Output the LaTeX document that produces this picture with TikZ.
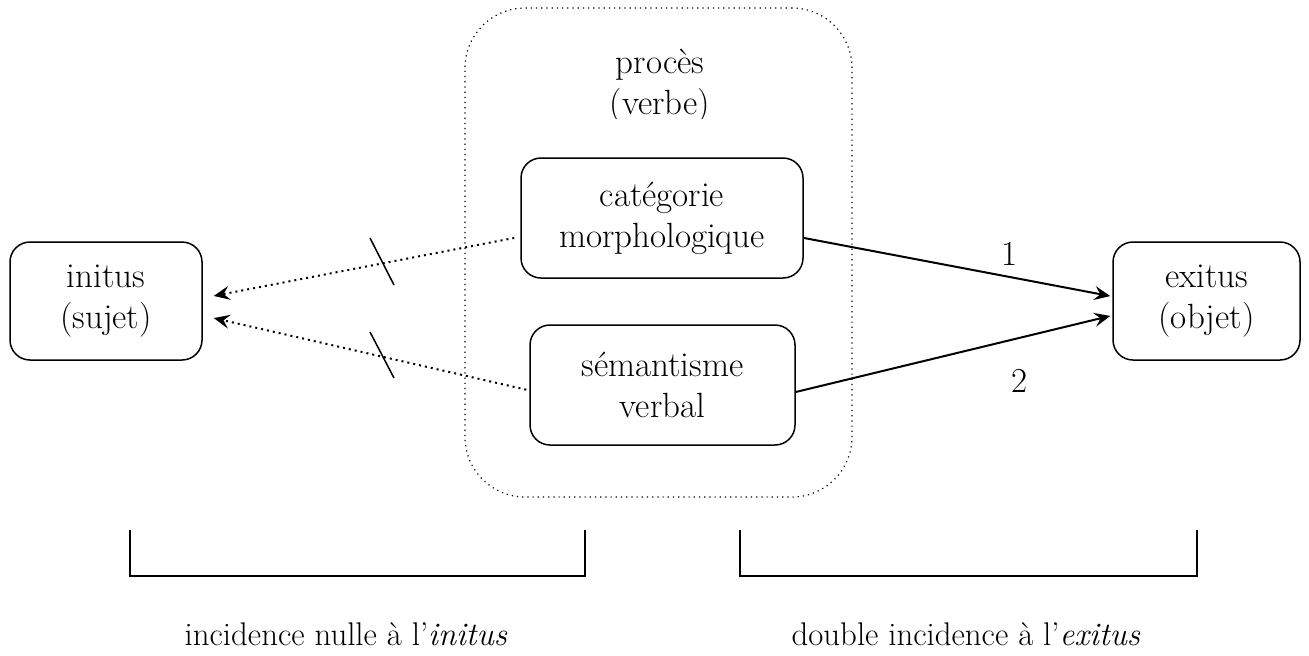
\documentclass[tikz,border=0pt]{standalone}
\usetikzlibrary{arrows.meta}
\begin{document}
\begin{tikzpicture}[x=0.5pt,y=-0.5pt,
  txt/.style={font=\fontsize{17.5}{20.5}\selectfont, align=center},
  lowtxt/.style={font=\fontsize{16.4}{20}\selectfont, align=center, inner ysep=1pt},
  box/.style={draw, line width=0.75pt, rounded corners=10pt, txt, inner sep=0pt},
  dotarrow/.style={dotted, line width=1pt, -{Stealth[length=8pt,width=7pt,inset=3pt]}},
  solarrow/.style={line width=1pt, -{Stealth[length=8pt,width=7pt,inset=3pt]}},
  tick/.style={line width=0.75pt},
  bracket/.style={line width=0.6pt}]
\useasboundingbox (0,0) rectangle (1309,655);
% proces frame
\node[draw, dotted, line width=0.6pt, rounded corners=30pt, minimum width=193.5pt, minimum height=244.5pt] (proc) at (658.5,252.5) {};
\begin{scope}
\clip (465,8) rectangle (852,118);
\node[txt] (proclab) at (660,86) {procès\\(verbe)};
\end{scope}
% boxes
\node[box, minimum width=96pt, minimum height=59pt] (initus) at (106,301) {initus\\(sujet)};
\node[box, minimum width=93.5pt, minimum height=59pt] (exitus) at (1206.5,301) {exitus\\(objet)};
\node[box, minimum width=141pt, minimum height=60pt] (cat) at (662,218) {catégorie\\morphologique};
\node[box, minimum width=132.5pt, minimum height=60pt] (sem) at (662.5,385) {sémantisme\\verbal};
% dotted arrows
\draw[dotarrow] ([xshift=-3pt]cat.188) -- ([xshift=5.5pt]initus.3.6);
\draw[dotarrow] ([xshift=-1.5pt]sem.182.6) -- ([xshift=5.5pt]initus.-10);
% ticks
\draw[tick] (370,238) -- (394,285);
\draw[tick] (370,332) -- (394,378);
% solid arrows
\draw[solarrow] (cat.-8.9) -- node[pos=0.67, above=2pt, txt] (l1) {1} ([xshift=-1pt]exitus.177.6);
\draw[solarrow] (sem.-3) -- node[pos=0.71, below=12pt, txt] (l2) {2} ([xshift=-1pt]exitus.189.8);
% brackets
\draw[bracket] (130,530) -- (130,576) -- (585,576) -- (585,530);
\draw[bracket] (740,530) -- (740,576) -- (1197,576) -- (1197,530);
% bottom labels
\node[lowtxt, anchor=base] (left) at (346,645) {incidence nulle à l’\textit{initus}};
\node[lowtxt, anchor=base] (right) at (966,645) {double incidence à l’\textit{exitus}};
\end{tikzpicture}
\end{document}
